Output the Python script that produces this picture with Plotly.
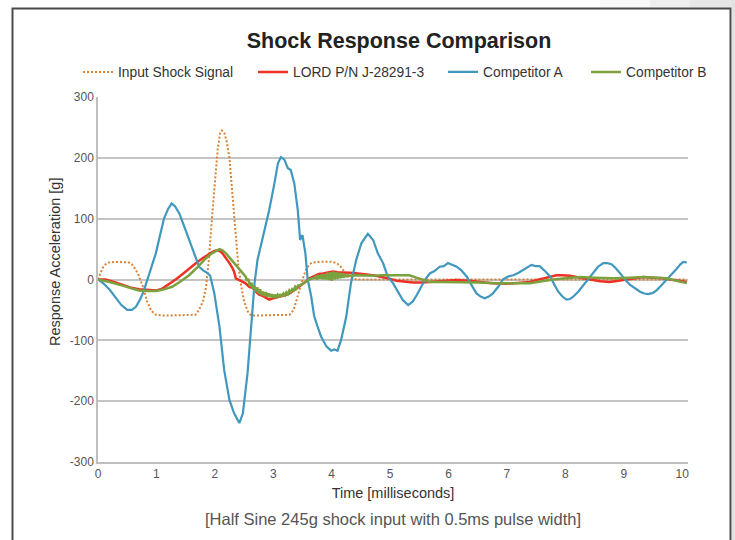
import plotly.graph_objects as go

# ---------------- data ----------------
series_names = ["Input Shock Signal", "LORD P/N J-28291-3", "Competitor A", "Competitor B"]

input_t = [0, 0.04, 0.08, 0.13, 0.19, 0.30, 0.45, 0.53, 0.58, 0.64, 0.70, 0.77, 0.84, 0.91, 0.99, 1.10, 1.30, 1.50, 1.67,
           1.73, 1.80, 1.85, 1.90, 1.95, 2.00, 2.05, 2.09, 2.12, 2.16, 2.20, 2.25, 2.30, 2.35, 2.40, 2.45, 2.50, 2.56, 2.62,
           2.80, 3.00, 3.28, 3.35, 3.42, 3.50, 3.56, 3.62, 3.67, 3.80, 4.00, 4.08, 4.14, 4.19, 4.27, 4.36, 4.45,
           5.0, 6.0, 7.0, 8.0, 9.0, 10.08]
input_g = [0, 10, 19, 25, 28, 29, 29, 28, 25, 17, 6, -12, -36, -51, -58, -59, -59, -59, -58,
           -50, -35, -12, 35, 100, 165, 215, 240, 245, 242, 228, 200, 140, 75, 25, -10, -35, -52, -59,
           -59, -59, -58, -50, -25, 0, 16, 25, 28, 29, 29, 27, 23, 16, 6, 1, 0,
           0, 0, 0, 0, 0, 0]

lord_t = [0, 0.13, 0.30, 0.42, 0.55, 0.70, 0.90, 1.00, 1.10, 1.20, 1.33, 1.45, 1.56, 1.68, 1.79, 1.90, 1.99, 2.05, 2.10,
          2.13, 2.20, 2.25, 2.30, 2.33, 2.36, 2.40, 2.45, 2.48, 2.52, 2.59, 2.65, 2.70, 2.76, 2.82, 2.88, 2.93, 3.00,
          3.05, 3.10, 3.20, 3.28, 3.35, 3.45, 3.55, 3.62, 3.70, 3.78, 3.85, 3.95, 4.02, 4.10, 4.20, 4.31, 4.45, 4.59,
          4.70, 4.82, 4.88, 5.00, 5.11, 5.28, 5.39, 5.55, 5.68, 5.90, 6.14, 6.35, 6.54, 6.75, 6.99, 7.20, 7.39, 7.50,
          7.62, 7.75, 7.85, 7.95, 8.08, 8.25, 8.42, 8.60, 8.76, 8.90, 9.05, 9.20, 9.34, 9.50, 9.68, 9.85, 10.08]
lord_g = [0, 0, -5, -9, -13, -16, -18, -18, -15, -9, 0, 9, 18, 27, 35, 42, 47, 48, 46,
          43, 34, 27, 19, 13, 2, 0, -3, -4, -6, -12, -14, -20, -25, -27, -30, -33, -31,
          -30, -28, -26, -23, -18, -12, -4, 2, 6, 9, 10, 12, 13, 12, 12, 11, 10, 9,
          7, 5, 4, 1, -2, -4, -5, -5, -4, -2, -1, -2, -4, -6, -7, -6, -4, -1,
          2, 5, 7, 7, 6, 3, 0, -3, -4, -2, 0, 2, 4, 3, 2, -1, -4]

compa_t = [0, 0.10, 0.20, 0.30, 0.40, 0.50, 0.58, 0.65, 0.72, 0.78, 0.85, 0.92, 0.99, 1.06, 1.13, 1.20, 1.26, 1.32, 1.39,
           1.50, 1.62, 1.73, 1.80, 1.87, 1.92, 1.99, 2.08, 2.16, 2.25, 2.33, 2.42, 2.48, 2.56, 2.62, 2.68, 2.73, 2.82,
           2.93, 3.02, 3.08, 3.13, 3.19, 3.25, 3.30, 3.36, 3.42, 3.46, 3.50, 3.55, 3.59, 3.65, 3.70, 3.76, 3.82, 3.91,
           3.99, 4.05, 4.10, 4.16, 4.25, 4.33, 4.42, 4.51, 4.62, 4.71, 4.79, 4.88, 4.96, 5.05, 5.14, 5.22, 5.31, 5.39,
           5.46, 5.53, 5.60, 5.68, 5.76, 5.85, 5.92, 5.99, 6.06, 6.14, 6.22, 6.31, 6.40, 6.48, 6.55, 6.62, 6.69, 6.76,
           6.85, 6.93, 7.02, 7.11, 7.20, 7.28, 7.35, 7.42, 7.49, 7.56, 7.65, 7.74, 7.81, 7.88, 7.95, 8.02, 8.08, 8.14,
           8.22, 8.31, 8.40, 8.48, 8.56, 8.65, 8.72, 8.79, 8.86, 8.94, 9.02, 9.11, 9.20, 9.28, 9.35, 9.42, 9.50, 9.57,
           9.65, 9.74, 9.82, 9.91, 9.97, 10.02, 10.08]
compa_g = [0, -7, -17, -30, -42, -50, -50, -45, -33, -20, 0, 22, 43, 72, 100, 116, 125, 120, 109,
           81, 48, 21, 15, 11, 6, -22, -78, -149, -198, -220, -236, -220, -154, -78, -6, 32, 70,
           114, 158, 191, 201, 197, 183, 180, 158, 114, 65, 73, 43, 0, -28, -60, -78, -94, -110,
           -117, -115, -117, -100, -61, -6, 32, 60, 75, 65, 43, 27, 5, -6, -20, -34, -42, -36,
           -25, -12, 0, 10, 14, 21, 22, 27, 24, 21, 15, 5, -10, -23, -28, -31, -28, -23,
           -12, 0, 5, 7, 11, 16, 19, 24, 22, 22, 14, 5, -8, -20, -28, -33, -32, -28,
           -20, -9, 2, 13, 21, 27, 27, 25, 19, 10, 0, -9, -15, -20, -23, -24, -22, -17,
           -9, 0, 9, 18, 25, 29, 28]

compb_t = [0, 0.20, 0.42, 0.55, 0.70, 0.85, 0.99, 1.10, 1.27, 1.40, 1.56, 1.70, 1.85, 1.95, 2.05, 2.08, 2.13, 2.19, 2.27,
           2.36, 2.43, 2.50, 2.525, 2.55, 2.575, 2.60, 2.625, 2.65, 2.675, 2.70, 2.725, 2.75, 2.775, 2.80, 2.825, 2.85,
           2.875, 2.90, 2.925, 2.95, 2.975, 3.00, 3.025, 3.05, 3.075, 3.10, 3.125, 3.15, 3.175, 3.20, 3.225, 3.25,
           3.275, 3.30, 3.325, 3.35, 3.375, 3.40, 3.425, 3.45, 3.50, 3.55, 3.62, 3.68, 3.70, 3.725, 3.75, 3.775, 3.80,
           3.825, 3.85, 3.875, 3.90, 3.925, 3.95, 3.975, 4.00, 4.025, 4.05, 4.075, 4.10, 4.125, 4.15, 4.175, 4.20,
           4.225, 4.25, 4.275, 4.30, 4.42, 4.55, 4.71, 4.85, 4.99, 5.15, 5.28, 5.33, 5.45, 5.55, 5.68, 5.90, 6.10,
           6.25, 6.50, 6.82, 7.10, 7.39, 7.60, 7.79, 8.00, 8.25, 8.50, 8.82, 9.10, 9.34, 9.55, 9.74, 9.90, 10.08]
compb_g = [0, -4, -10, -14, -18, -19, -19, -17, -12, -4, 7, 20, 35, 43, 48, 50, 48, 43, 34,
           24, 16, 8, 5, -2, 1, -11, -5, -15, -10, -20, -13, -23, -16, -26, -20, -27,
           -21, -28, -23, -29, -24, -30, -25, -29, -25, -29, -24, -28, -23, -26, -21, -24,
           -18, -21, -16, -18, -12, -15, -10, -10, -7, -4, 0, 2, 2, 5, 0, 7, 1,
           8, 0, 9, 0, 11, -1, 12, -2, 13, 0, 12, 1, 11, 2, 10, 3,
           9, 4, 8, 6, 7, 6, 6, 7, 7, 7, 7, 7, 3, 0, -4, -4, -4,
           -4, -5, -6, -6, -6, -3, 0, 2, 4, 3, 2, 3, 4, 3, 2, -2, -6]

x_ticks = [0, 1, 2, 3, 4, 5, 6, 7, 8, 9, 10]
y_ticks = [-300, -200, -100, 0, 100, 200, 300]
y_tick_labels = ["-300", "-200", "-100", "0", "100", "200", "300"]

colors = ["#DB8136", "#EE3124", "#4198BE", "#7BA23F"]

# ---------------- figure ----------------
W, H = 735, 540
L, R, T, B = 98, 47, 97, 78
pw, ph = W - L - R, H - T - B


def px_x(p):
    return (p - L) / pw


def px_y(p):
    return (H - B - p) / ph


FONT = "Liberation Sans, Arial, Helvetica, sans-serif"

legend_ids = ["legend", "legend2", "legend3", "legend4"]
legend_left_px = [78, 253, 443, 586]

fig = go.Figure()
fig.add_trace(go.Scatter(x=input_t, y=input_g, name=series_names[0], mode="lines", legend=legend_ids[0],
                         line=dict(color=colors[0], width=2, dash="2px,2px")))
fig.add_trace(go.Scatter(x=lord_t, y=lord_g, name=series_names[1], mode="lines", legend=legend_ids[1],
                         line=dict(color=colors[1], width=2.5)))
fig.add_trace(go.Scatter(x=compa_t, y=compa_g, name=series_names[2], mode="lines", legend=legend_ids[2],
                         line=dict(color=colors[2], width=2.2)))
fig.add_trace(go.Scatter(x=compb_t, y=compb_g, name=series_names[3], mode="lines", legend=legend_ids[3],
                         line=dict(color=colors[3], width=2.5)))

legend_style = dict(orientation="h", xanchor="left", y=px_y(72), yanchor="middle",
                    font=dict(size=13.8, color="#333", family=FONT), bgcolor="rgba(0,0,0,0)", itemwidth=30)

fig.update_layout(
    width=W, height=H,
    margin=dict(l=L, r=R, t=T, b=B, pad=0),
    paper_bgcolor="white", plot_bgcolor="white",
    font=dict(family=FONT, color="#444", size=12),
    title=dict(text="<b>Shock Response Comparison</b>", font=dict(size=21.5, color="#222", family=FONT),
               xref="container", x=399 / W, xanchor="center", yref="container", y=1 - 40 / H, yanchor="middle"),
    showlegend=True,
    legend=dict(x=px_x(legend_left_px[0]), **legend_style),
    legend2=dict(x=px_x(legend_left_px[1]), **legend_style),
    legend3=dict(x=px_x(legend_left_px[2]), **legend_style),
    legend4=dict(x=px_x(legend_left_px[3]), **legend_style),
    xaxis=dict(range=[0, 10.1], tickvals=x_ticks, showgrid=False, zeroline=False,
               showline=True, linecolor="#BEBEBE", linewidth=1.5, ticks="",
               tickfont=dict(size=12, color="#555", family=FONT),
               title=dict(text="Time [milliseconds]", font=dict(size=14.5, color="#333", family=FONT), standoff=8)),
    yaxis=dict(range=[-300, 300], tickvals=y_ticks, ticktext=y_tick_labels, showgrid=True,
               gridcolor="#C4C4C4", gridwidth=1.5,
               zeroline=False, showline=True, linecolor="#BEBEBE", linewidth=1.5, ticks="",
               tickfont=dict(size=12, color="#555", family=FONT)),
)

# y-axis title (placed as in the reference, slightly above the plot centre)
fig.add_annotation(text="Response Acceleration [g]", textangle=-90,
                   xref="paper", yref="paper", x=px_x(55), y=px_y(262), xanchor="center", yanchor="middle",
                   showarrow=False, font=dict(size=14.5, color="#333", family=FONT))

fig.add_annotation(text="[Half Sine 245g shock input with 0.5ms pulse width]",
                   xref="paper", yref="paper", x=px_x(393), y=px_y(519), xanchor="center", yanchor="middle",
                   showarrow=False, font=dict(size=16.5, color="#555", family=FONT))

# outer frame and shadow
fig.add_shape(type="rect", xref="paper", yref="paper", x0=px_x(732), x1=px_x(745), y0=px_y(560), y1=px_y(-10),
              fillcolor="#E2E2E2", line=dict(width=0), layer="below")
for x0, op in [(600, 0.25), (650, 0.45), (690, 0.7)]:
    fig.add_shape(type="rect", xref="paper", yref="paper", x0=px_x(x0), x1=px_x(745), y0=px_y(7.5), y1=px_y(-10),
                  fillcolor="#E2E2E2", opacity=op, line=dict(width=0), layer="below")
fig.add_shape(type="rect", xref="paper", yref="paper", x0=px_x(12.5), x1=px_x(730.5), y0=px_y(560), y1=px_y(8.5),
              line=dict(color="#4A4A4A", width=2), fillcolor="rgba(0,0,0,0)", layer="below")

fig.write_html("out.html", config={"displayModeBar": False},
               post_script="document.body.style.margin='0';document.body.style.overflow='hidden';")
